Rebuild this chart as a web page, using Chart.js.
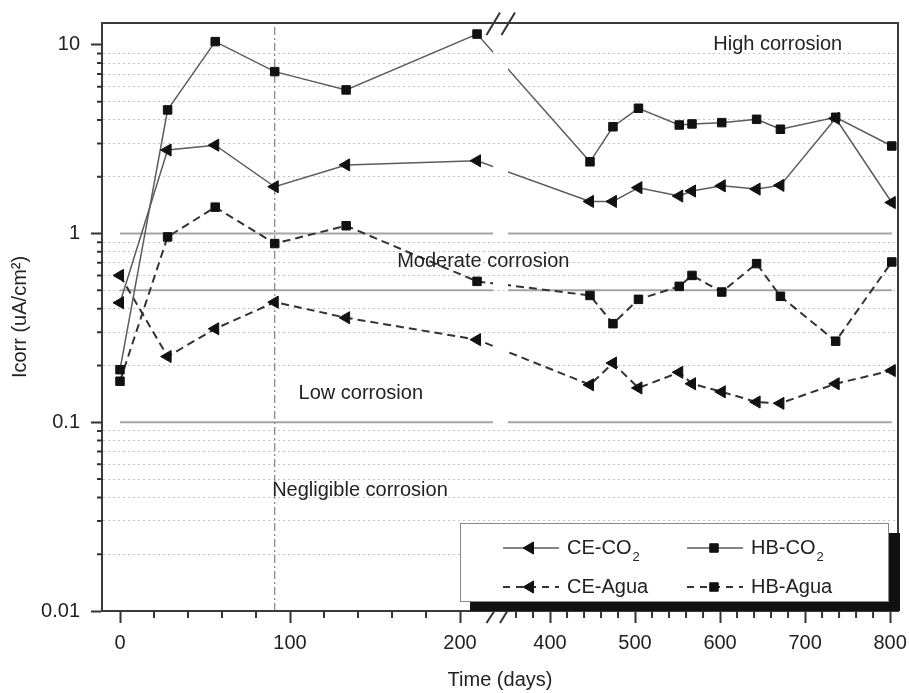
<!DOCTYPE html>
<html><head><meta charset="utf-8">
<script src="https://cdn.jsdelivr.net/npm/chart.js@4.4.1/dist/chart.umd.min.js"></script>
<style>html,body{margin:0;padding:0;background:#fff}#wrap{width:909px;height:693px;position:relative}</style>
</head><body><div id="wrap"><canvas id="c"></canvas></div>
<script>
// ---- data (days, Icorr in uA/cm2) ----
const DAYS    = [0, 28, 56, 91, 133, 210, 447, 474, 504, 552, 567, 602, 643, 671, 736, 802];
const HB_CO2  = [0.19, 4.52, 10.4, 7.21, 5.77, 11.4, 2.40, 3.68, 4.61, 3.76, 3.81, 3.87, 4.03, 3.57, 4.13, 2.91];
const CE_CO2  = [0.43, 2.77, 2.94, 1.77, 2.31, 2.43, 1.48, 1.48, 1.75, 1.58, 1.68, 1.79, 1.72, 1.80, 4.08, 1.46];
const HB_AGUA = [0.165, 0.96, 1.38, 0.885, 1.10, 0.558, 0.47, 0.333, 0.448, 0.525, 0.60, 0.49, 0.693, 0.465, 0.269, 0.707];
const CE_AGUA = [0.60, 0.223, 0.313, 0.433, 0.358, 0.274, 0.158, 0.206, 0.152, 0.184, 0.16, 0.145, 0.128, 0.126, 0.16, 0.188];
const THRESHOLDS = [1, 0.5, 0.1];
const THRESHOLD_SPAN = [0, 802];
const MARK_DAY = 91;
const X_LABEL_DAYS = [0, 100, 200, 400, 500, 600, 700, 800];
const X_MINOR_LEFT = [20, 40, 60, 80, 120, 140, 160, 180];
const X_MINOR_RIGHT = [360, 380, 420, 440, 460, 480, 520, 540, 560, 580, 620, 640, 660, 680, 720, 740, 760, 780];
const Y_LABEL_VALUES = [0.01, 0.1, 1, 10];
const Y_LABELS = ['0.01', '0.1', '1', '10'];
const Y_MINOR = [0.02,0.03,0.04,0.05,0.06,0.07,0.08,0.09,0.2,0.3,0.4,0.5,0.6,0.7,0.8,0.9,2,3,4,5,6,7,8,9];
const ZONE_TEXTS = [
  {text: 'High corrosion', day: 592, value: 10},
  {text: 'Moderate corrosion', day: 163, value: 0.713},
  {text: 'Low corrosion', day: 105, value: 0.142},
  {text: 'Negligible corrosion', day: 89.5, value: 0.0433}
];

// ---- broken axis mapping (left part full scale, right part half scale) ----
const RIGHT_OFFSET = 252.94;
const GAP_V = 223.8;
function axisX(d) { return d <= 300 ? d : RIGHT_OFFSET + 0.5 * (d - 400); }
function dayOf(v) { return v <= GAP_V ? v : 400 + (v - RIGHT_OFFSET) * 2; }
function isLabelDay(v) { return X_LABEL_DAYS.some(d => Math.abs(axisX(d) - v) < 0.01); }

const FONT = '"Liberation Sans", Arial, Helvetica, sans-serif';
const Y_MIN = 0.01, Y_MAX = 13.05;

function series(label, values, o) {
  return Object.assign({
    label, inLegend: true,
    data: DAYS.map((d, i) => ({x: axisX(d), y: values[i]})),
    showLine: true, tension: 0, fill: false,
    pointBackgroundColor: '#111', pointBorderColor: '#111', pointBorderWidth: 1
  }, o);
}

const datasets = [
  series('CE-CO₂', CE_CO2, {borderColor: '#5c5c5c', borderWidth: 1.5, pointStyle: 'triangle', pointRotation: -90, pointRadius: 7, legendCol: 0, legendRow: 0}),
  series('HB-CO₂', HB_CO2, {borderColor: '#5c5c5c', borderWidth: 1.5, pointStyle: 'rect', pointRadius: 6, legendCol: 1, legendRow: 0}),
  series('CE-Agua', CE_AGUA, {borderColor: '#333', borderWidth: 2, borderDash: [8, 5], pointStyle: 'triangle', pointRotation: -90, pointRadius: 7, legendCol: 0, legendRow: 1}),
  series('HB-Agua', HB_AGUA, {borderColor: '#333', borderWidth: 2, borderDash: [8, 5], pointStyle: 'rect', pointRadius: 6, legendCol: 1, legendRow: 1}),
  {label: 'mark', data: [{x: axisX(MARK_DAY), y: Y_MIN}, {x: axisX(MARK_DAY), y: Y_MAX}], showLine: true,
   borderColor: '#8a8a8a', borderWidth: 1.3, borderDash: [8, 3, 2, 3], pointRadius: 0}
].concat(THRESHOLDS.map(t => ({
  label: 'th' + t, data: THRESHOLD_SPAN.map(d => ({x: axisX(d), y: t})), showLine: true,
  borderColor: '#a5a5a5', borderWidth: 2, pointRadius: 0
})));

function drawMarker(ctx, style, x, y, r, rot) {
  ctx.beginPath();
  if (style === 'rect') {
    const s = Math.SQRT1_2 * r; ctx.rect(x - s, y - s, 2 * s, 2 * s);
  } else {
    const a0 = (rot || 0) * Math.PI / 180;
    for (let k = 0; k < 3; k++) {
      const a = a0 + k * 2 * Math.PI / 3;
      const px = x + Math.sin(a) * r, py = y - Math.cos(a) * r;
      if (k) ctx.lineTo(px, py); else ctx.moveTo(px, py);
    }
    ctx.closePath();
  }
  ctx.fill(); ctx.stroke();
}

const breakPlugin = {
  id: 'breakAndDecor',
  beforeDatasetsDraw(chart) {
    const {ctx, chartArea: a} = chart;
    const c = chart.scales.x.getPixelForValue(GAP_V);
    ctx.save();
    ctx.beginPath();
    ctx.rect(a.left - 20, a.top - 20, (c - 7.5) - (a.left - 20), a.height + 40);
    ctx.rect(c + 7.5, a.top - 20, a.right + 20 - (c + 7.5), a.height + 40);
    ctx.clip();
  },
  afterDatasetsDraw(chart) {
    const {ctx} = chart;
    ctx.restore();
    const xs = chart.scales.x, ys = chart.scales.y;
    ctx.save();
    ctx.fillStyle = '#222';
    ctx.font = '20px ' + FONT;
    ctx.textAlign = 'left'; ctx.textBaseline = 'middle';
    ZONE_TEXTS.forEach(t => ctx.fillText(t.text, xs.getPixelForValue(axisX(t.day)), ys.getPixelForValue(t.value)));
    ctx.restore();
  },
  afterDraw(chart) {
    const {ctx, chartArea: a} = chart;
    const xs = chart.scales.x, ys = chart.scales.y;
    ctx.save();
    // frame
    ctx.strokeStyle = '#3a3a3a'; ctx.lineWidth = 2;
    ctx.strokeRect(a.left, a.top, a.width, a.height);
    // minor ticks
    ctx.lineWidth = 2; ctx.strokeStyle = '#333';
    ctx.beginPath();
    Y_MINOR.forEach(v => { const p = ys.getPixelForValue(v); ctx.moveTo(a.left - 5, p); ctx.lineTo(a.left, p); });
    X_MINOR_LEFT.concat(X_MINOR_RIGHT).forEach(d => { const p = xs.getPixelForValue(axisX(d)); ctx.moveTo(p, a.bottom); ctx.lineTo(p, a.bottom + 7); });
    ctx.stroke();
    // break marks
    const c = xs.getPixelForValue(GAP_V);
    ctx.lineWidth = 2; ctx.strokeStyle = '#333';
    ctx.beginPath();
    ctx.moveTo(c - 14, a.top + 12); ctx.lineTo(c - 0.5, a.top - 10.5);
    ctx.moveTo(c + 1, a.top + 12); ctx.lineTo(c + 14.5, a.top - 10.5);
    ctx.moveTo(c - 14, a.bottom + 12); ctx.lineTo(c - 5.5, a.bottom - 1);
    ctx.moveTo(c - 0.5, a.bottom + 12); ctx.lineTo(c + 7.5, a.bottom - 1);
    ctx.stroke();
    // legend
    const bw = 428, bh = 78;
    const bx = a.right - 10 - bw, by = a.bottom - 10 - bh;
    ctx.fillStyle = '#111';
    ctx.fillRect(bx + 10, by + 10, bw + 2, bh);
    ctx.fillStyle = '#fff';
    ctx.fillRect(bx, by, bw, bh);
    ctx.strokeStyle = '#888'; ctx.lineWidth = 1;
    ctx.strokeRect(bx + 0.5, by + 0.5, bw, bh);
    const colX = [43, 227], rowY = [25, 64];
    chart.data.datasets.filter(d => d.inLegend).forEach(d => {
      const x0 = bx + colX[d.legendCol], y0 = by + rowY[d.legendRow];
      ctx.save();
      ctx.strokeStyle = d.borderColor; ctx.lineWidth = d.borderWidth;
      ctx.setLineDash(d.borderDash ? [7, 6] : []);
      ctx.beginPath(); ctx.moveTo(x0, y0); ctx.lineTo(x0 + 56, y0); ctx.stroke();
      ctx.setLineDash([]);
      ctx.fillStyle = '#111'; ctx.strokeStyle = '#111'; ctx.lineWidth = 1;
      drawMarker(ctx, d.pointStyle, x0 + 27, y0, d.pointRadius, d.pointRotation);
      ctx.fillStyle = '#222';
      ctx.textAlign = 'left'; ctx.textBaseline = 'middle';
      ctx.font = '20px ' + FONT;
      let txt = d.label, sub = '';
      if (txt.endsWith('₂')) { txt = txt.slice(0, -1); sub = '2'; }
      const tx = x0 + 64;
      ctx.fillText(txt, tx, y0);
      if (sub) {
        const w = ctx.measureText(txt).width;
        ctx.font = '13px ' + FONT;
        ctx.fillText(sub, tx + w + 1, y0 + 9);
      }
      ctx.restore();
    });
    ctx.restore();
  }
};

new Chart(document.getElementById('c'), {
  type: 'scatter',
  data: {datasets},
  options: {
    responsive: true, maintainAspectRatio: false, animation: false,
    layout: {padding: {left: 0, right: 11, top: 23, bottom: 0}},
    plugins: {legend: {display: false}, tooltip: {enabled: false}},
    scales: {
      x: {
        type: 'linear', min: -10.59, max: 457.6,
        afterBuildTicks: s => { s.ticks = X_LABEL_DAYS.map(d => ({value: axisX(d)})); },
        afterFit: s => { s.height = 82; s.paddingLeft = 0; s.paddingRight = 0; },
        grid: {drawOnChartArea: false, drawTicks: true, tickLength: 12, tickWidth: 2, tickColor: '#333'},
        border: {display: true, color: '#333', width: 2},
        ticks: {autoSkip: false, maxRotation: 0, padding: 8, color: '#222', font: {size: 20, family: FONT},
          callback: v => isLabelDay(v) ? String(Math.round(dayOf(v))) : ''},
        title: {display: true, text: 'Time (days)', color: '#222', font: {size: 20, family: FONT}, padding: {top: 0, bottom: 1}}
      },
      y: {
        type: 'logarithmic', min: Y_MIN, max: Y_MAX,
        afterBuildTicks: s => { s.ticks = Y_LABEL_VALUES.concat(Y_MINOR).map(v => ({value: v})); },
        afterFit: s => { s.width = 102; s.paddingTop = 0; s.paddingBottom = 0; },
        grid: {
          color: c => (c.tick && Y_LABEL_VALUES.includes(c.tick.value)) ? 'rgba(0,0,0,0)' : '#c4c4c4',
          lineWidth: 1, drawTicks: true, tickLength: 11, tickWidth: 2,
          tickColor: c => (c.tick && Y_LABEL_VALUES.includes(c.tick.value)) ? '#333' : 'rgba(0,0,0,0)',
          tickBorderDash: []
        },
        border: {display: true, color: '#333', width: 2, dash: [2, 3]},
        ticks: {autoSkip: false, padding: 11, color: '#222', font: {size: 20, family: FONT},
          callback: v => { const i = Y_LABEL_VALUES.findIndex(t => Math.abs(t - v) < 1e-9); return i >= 0 ? Y_LABELS[i] : ''; }},
        title: {display: true, text: 'Icorr (uA/cm²)', color: '#222', font: {size: 20, family: FONT}, padding: {top: 8, bottom: 0}}
      }
    }
  },
  plugins: [breakPlugin]
});
</script></body></html>
